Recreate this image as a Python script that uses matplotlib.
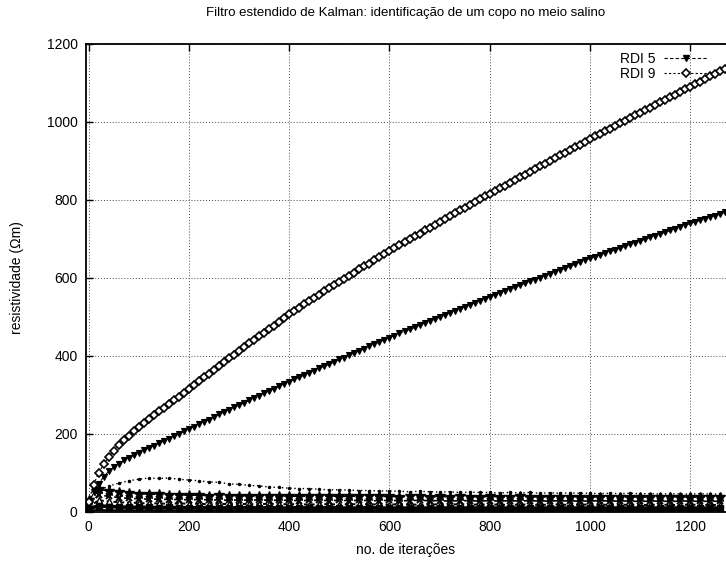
import matplotlib
matplotlib.use("Agg")
import matplotlib.pyplot as plt
from matplotlib.lines import Line2D

plt.rcParams['font.family'] = ['Liberation Sans', 'DejaVu Sans']

# iteration index of the two identified RDI curves (every 10 iterations)
iters = list(range(0, 1280, 10))

rdi5 = [
    20, 50, 72, 90, 104, 115, 124, 132, 139, 146,
    152, 158, 164, 170, 176, 182, 188, 194, 200, 207,
    213, 219, 225, 231, 237, 243, 250, 256, 262, 268,
    274, 280, 286, 292, 298, 304, 310, 316, 322, 328,
    334, 340, 345, 351, 357, 362, 368, 374, 379, 385,
    391, 396, 402, 408, 413, 419, 425, 430, 436, 442,
    447, 452, 458, 463, 468, 473, 479, 484, 489, 494,
    500, 505, 510, 515, 521, 526, 531, 536, 542, 547,
    552, 557, 562, 567, 571, 576, 581, 586, 591, 596,
    601, 606, 611, 616, 620, 625, 630, 635, 640, 645,
    650, 654, 659, 663, 668, 672, 677, 681, 686, 690,
    695, 699, 704, 708, 713, 717, 722, 726, 731, 735,
    740, 744, 748, 752, 756, 760, 764, 768,
]

rdi9 = [
    25, 70, 100, 122, 141, 157, 171, 184, 196, 207,
    218, 229, 239, 249, 258, 267, 277, 287, 296, 306,
    315, 325, 335, 345, 355, 365, 375, 384, 394, 403,
    413, 422, 432, 441, 450, 460, 469, 478, 488, 497,
    507, 515, 524, 532, 541, 549, 557, 566, 574, 582,
    590, 598, 606, 614, 622, 630, 637, 645, 653, 661,
    669, 677, 684, 692, 699, 707, 714, 722, 729, 737,
    744, 751, 759, 766, 773, 780, 788, 795, 802, 809,
    816, 823, 830, 837, 844, 851, 858, 865, 872, 879,
    886, 893, 900, 907, 914, 921, 928, 935, 942, 949,
    956, 963, 970, 976, 983, 990, 997, 1003, 1010, 1017,
    1024, 1030, 1037, 1044, 1050, 1057, 1064, 1070, 1077, 1084,
    1090, 1097, 1103, 1110, 1117, 1123, 1130, 1137,
]

# remaining RDI curves that settle near the bottom (every 20 iterations)
iters_low = list(range(0, 1280, 20))

low_a = [
    15, 55, 66, 74, 80, 84, 87, 86, 87, 84,
    82, 80, 77, 76, 72, 71, 68, 67, 64, 63,
    61, 60, 60, 58, 57, 57, 56, 55, 55, 54,
    54, 53, 52, 53, 52, 51, 52, 50, 51, 50,
    50, 49, 50, 49, 50, 48, 49, 48, 49, 48,
    48, 47, 48, 47, 48, 47, 47, 46, 47, 46,
    46, 47, 46, 46,
]
low_b = [
    30, 58, 54, 51, 49, 47, 46, 45, 44, 44,
    43, 43, 42, 43, 42, 42, 41, 42, 41, 41,
    41, 40, 41, 40, 41, 40, 40, 41, 40, 40,
    40, 39, 40, 40, 39, 40, 39, 40, 39, 39,
    40, 39, 39, 40, 39, 39, 39, 38, 39, 39,
    38, 39, 39, 38, 39, 38, 39, 38, 38, 39,
    38, 38, 39, 38,
]
low_c = [
    18, 44, 40, 37, 35, 34, 33, 33, 32, 32,
    31, 32, 31, 31, 30, 31, 30, 31, 30, 30,
    30, 29, 30, 30, 29, 30, 29, 30, 29, 29,
    30, 29, 29, 30, 29, 29, 28, 29, 29, 28,
    29, 28, 29, 28, 29, 28, 28, 29, 28, 28,
    28, 29, 28, 28, 28, 27, 28, 28, 27, 28,
    28, 27, 28, 27,
]
low_d = [
    12, 30, 27, 25, 24, 23, 22, 22, 21, 22,
    21, 21, 20, 21, 20, 21, 20, 20, 21, 20,
    20, 20, 19, 20, 20, 19, 20, 20, 19, 20,
    19, 20, 19, 19, 20, 19, 19, 20, 19, 19,
    19, 19, 18, 19, 19, 18, 19, 19, 18, 19,
    19, 18, 19, 18, 19, 18, 18, 19, 18, 18,
    19, 18, 18, 18,
]
low_e = [
    8, 16, 14, 13, 12, 12, 12, 11, 12, 11,
    11, 11, 11, 11, 10, 11, 11, 10, 11, 10,
    10, 11, 10, 10, 11, 10, 10, 10, 11, 10,
    10, 10, 10, 10, 10, 10, 10, 10, 10, 10,
    10, 10, 10, 10, 10, 10, 10, 10, 10, 10,
    10, 10, 10, 10, 10, 10, 10, 10, 10, 10,
    10, 10, 10, 10,
]
low_f = [
    3, 5, 4, 4, 4, 4, 4, 4, 4, 4,
    4, 4, 4, 4, 4, 4, 4, 4, 4, 4,
    4, 4, 4, 4, 4, 4, 4, 4, 4, 4,
    4, 4, 4, 4, 4, 4, 4, 4, 4, 4,
    4, 4, 4, 4, 4, 4, 4, 4, 4, 4,
    4, 4, 4, 4, 4, 4, 4, 4, 4, 4,
    4, 4, 4, 4,
]

x_ticks = [0, 200, 400, 600, 800, 1000, 1200]
y_ticks = [0, 200, 400, 600, 800, 1000, 1200]

fig = plt.figure(figsize=(7.26, 5.62), dpi=100)
ax = fig.add_axes([0.1185, 0.089, 0.8815, 0.8328])

# curves near the bottom
ax.plot(iters_low, low_a, color='black', lw=1.0, linestyle=(0, (1, 2)),
        marker='.', markersize=3)
ax.plot(iters_low, low_b, color='black', lw=1.2, linestyle=(0, (3, 2)),
        marker='*', markersize=7)
ax.plot(iters_low, low_c, color='black', lw=1.2, linestyle=(0, (4, 2)),
        marker='x', markersize=5, markeredgewidth=1.4)
ax.plot(iters_low, low_d, color='black', lw=1.4, linestyle=(0, (2, 1.5)),
        marker='^', markersize=5, markerfacecolor='white', markeredgewidth=1.0)
ax.plot(iters_low, low_e, color='black', lw=2.6, linestyle='-',
        marker='s', markersize=4.5)
ax.plot(iters_low, low_f, color='black', lw=1.6, linestyle='-')

ax.plot(iters, rdi5, color='black', lw=0.8, linestyle=(0, (4, 2)),
        marker='v', markersize=5, markerfacecolor='black', markeredgewidth=0.8)
ax.plot(iters, rdi9, color='black', lw=0.8, linestyle=(0, (2, 2)),
        marker='D', markersize=3.6, markerfacecolor='white', markeredgewidth=1.2)

ax.set_xlim(-5, 1271)
ax.set_ylim(0, 1200)
ax.set_xticks(x_ticks)
ax.set_yticks(y_ticks)
ax.tick_params(direction='in', length=5, width=1.0, labelsize=10,
               top=True, right=False, pad=6)
ax.grid(True, color='0.3', linestyle=(0, (1, 2)), linewidth=0.7)
ax.set_axisbelow(True)

for side in ('left', 'bottom', 'top'):
    ax.spines[side].set_linewidth(1.3)
ax.spines['right'].set_visible(False)

ax.set_xlabel('no. de iterações', fontsize=10, labelpad=6)
ax.set_ylabel('resistividade (Ωm)', fontsize=10, labelpad=16)
ax.set_title('Filtro estendido de Kalman: identificação de um copo no meio salino',
             fontsize=9.5, pad=20)

handles = [
    Line2D([], [], color='black', lw=0.8, linestyle=(0, (3, 2)),
           marker='v', markersize=5, markerfacecolor='black'),
    Line2D([], [], color='black', lw=0.8, linestyle=(0, (2, 2)),
           marker='D', markersize=3.6, markerfacecolor='white',
           markeredgewidth=1.2),
]
ax.legend(handles, ['RDI 5', 'RDI 9'], loc='upper right', markerfirst=False,
          frameon=False, fontsize=10, handlelength=3.2, handletextpad=0.6,
          labelspacing=0.05, borderaxespad=0.2, bbox_to_anchor=(0.985, 1.0))

fig.savefig('out.png', dpi=100)
